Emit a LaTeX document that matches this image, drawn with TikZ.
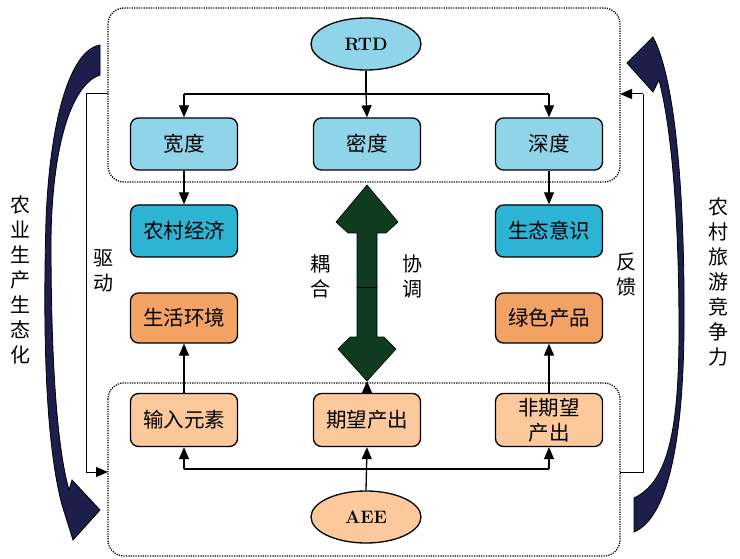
\documentclass[tikz,border=0pt]{standalone}
\usepackage{fontspec}
\newfontfamily\cjk{Noto Sans CJK SC}
\usetikzlibrary{arrows.meta,shapes.geometric}
\definecolor{bluelt}{HTML}{90D4EA}
\definecolor{bluedk}{HTML}{2DB3D3}
\definecolor{orgdk}{HTML}{F2A264}
\definecolor{orglt}{HTML}{FCC99C}
\definecolor{navy}{HTML}{1E1E4C}
\definecolor{dgreen}{HTML}{0F3B21}
\begin{document}
\begin{tikzpicture}[x=1pt,y=-1pt,
  boxbase/.style={draw, line width=1.3pt, rounded corners=8pt, minimum width=107pt, minimum height=52pt, inner sep=2pt, align=center, font=\cjk\fontsize{20.5}{25}\selectfont},
  b1/.style={boxbase, fill=bluelt},
  b2/.style={boxbase, fill=bluedk},
  b3/.style={boxbase, fill=orgdk, minimum height=50pt},
  b4/.style={boxbase, fill=orglt, minimum height=53pt},
  ell/.style={draw, line width=1.3pt, ellipse, minimum width=110pt, minimum height=52pt, inner sep=0pt, font=\fontsize{18}{20}\selectfont\bfseries},
  arr/.style={line width=1.3pt, -{Triangle[length=12pt,width=10pt]}},
  ln/.style={line width=1.3pt},
  fb/.style={line width=1pt},
  group/.style={draw, line width=1.3pt, dash pattern=on 1.2pt off 1.2pt, rounded corners=16pt},
  vlab/.style={align=center, inner sep=0pt, font=\cjk\fontsize{20}{25}\selectfont},
  bigarr/.style={fill=navy, draw=black, line width=0.8pt},
]
\useasboundingbox (0,0) rectangle (740,559);
\fill[white] (0,0) rectangle (740,559);

% groups
\draw[group] (108,8) rectangle (620,182);
\draw[group] (108,383) rectangle (620,556);

% nodes
\node[ell, fill=bluelt] (rtd) at (366,44) {RTD};
\node[b1] (kuan) at (184,144) {宽度};
\node[b1] (mi) at (367,144) {密度};
\node[b1] (shen) at (549,144) {深度};
\node[b2] (nc) at (184,231) {农村经济};
\node[b2] (st) at (549,231) {生态意识};
\node[b3] (sh) at (184,318) {生活环境};
\node[b3] (ls) at (549,318) {绿色产品};
\node[b4] (sr) at (184,420) {输入元素};
\node[b4] (qw) at (367,420) {期望产出};
\node[b4] (fq) at (549,420) {非期望\\产出};
\node[ell, fill=orglt] (aee) at (366,517) {AEE};

% top tree
\coordinate (tj) at (366,94);
\coordinate (tl) at (184,94);
\coordinate (tr) at (549,94);
\draw[ln] (rtd.south) -- (tj);
\draw[ln] (tl) -- (tr);
\draw[arr] (tj) -- (mi.north);
\draw[arr] (tl) -- (kuan.north);
\draw[arr] (tr) -- (shen.north);
\draw[arr] (kuan.south) -- (nc.north);
\draw[arr] (shen.south) -- (st.north);

% bottom tree
\coordinate (bj) at (366,469);
\coordinate (bl) at (184,469);
\coordinate (br) at (549,469);
\draw[ln] (bl) -- (br);
\draw[arr] (aee.north) -- (qw.south);
\draw[arr] (bl) -- (sr.south);
\draw[arr] (br) -- (fq.south);
\draw[arr] (sr.north) -- (sh.south);
\draw[arr] (fq.north) -- (ls.south);
\coordinate (qtop) at (367,381);
\draw[arr] (qw.north) -- (qtop);

% feedback loops
\coordinate (lf1) at (108,94);
\coordinate (lf2) at (86,94);
\coordinate (lf3) at (86,472);
\coordinate (lf4) at (108,472);
\draw[fb] (lf1) -- (lf2) -- (lf3);
\draw[fb, -{Triangle[length=12pt,width=10pt]}] (lf3) -- (lf4);
\coordinate (rf1) at (620,472);
\coordinate (rf2) at (643,472);
\coordinate (rf3) at (643,94);
\coordinate (rf4) at (620,94);
\draw[fb] (rf1) -- (rf2) -- (rf3);
\draw[fb, -{Triangle[length=12pt,width=10pt]}] (rf3) -- (rf4);

% green double arrow
\draw[fill=dgreen, draw=black, line width=0.6pt]
  (367,185) -- (398,222) -- (386,233) -- (377,233) -- (377,337) -- (384,337)
  -- (396,349) -- (367,381) -- (338,349) -- (350,337) -- (357,337)
  -- (357,233) -- (348,233) -- (336,222) -- cycle;
\draw[line width=0.8pt] (357,287) -- (377,287);

% big curved arrows
\draw[bigarr]
  (100,45) .. controls (70,50) and (50,120) .. (46,220)
  .. controls (43,330) and (45,440) .. (62,505)
  -- (73,540) -- (100,510) -- (72,480) -- (69,490)
  .. controls (55,440) and (51,340) .. (51,240)
  .. controls (52,150) and (70,85) .. (100,75) -- cycle;
\draw[bigarr]
  (634,532) .. controls (668,518) and (683,440) .. (684,330)
  .. controls (685,200) and (676,80) .. (653,37)
  -- (627,63) -- (653,92) -- (659,80)
  .. controls (672,130) and (679,220) .. (679,330)
  .. controls (679,430) and (668,482) .. (634,498) -- cycle;

% labels
\node[vlab] (lt) at (20,280) {农\\业\\生\\产\\生\\态\\化};
\node[vlab] (rt) at (718,282) {农\\村\\旅\\游\\竞\\争\\力};
\node[vlab] (qd) at (103,271) {驱\\动};
\node[vlab] (fk) at (626,275) {反\\馈};
\node[vlab] (oh) at (320,276) {耦\\合};
\node[vlab] (xt) at (412,276) {协\\调};
\end{tikzpicture}
\end{document}
